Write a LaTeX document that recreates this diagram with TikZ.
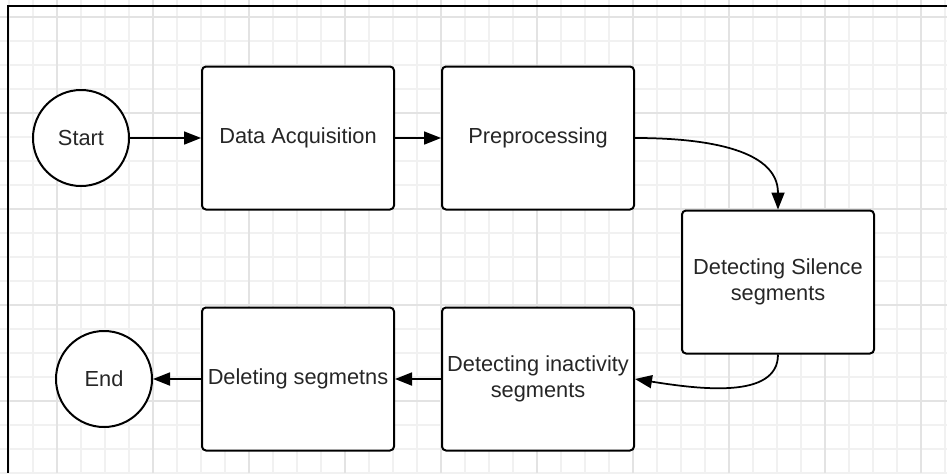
\documentclass[tikz,border=0pt]{standalone}
\usepackage{fontspec}
\setmainfont{Liberation Sans}
\usepackage{tikz}
\usetikzlibrary{positioning}
\usetikzlibrary{arrows.meta}
\definecolor{gridminor}{HTML}{F1F1F1}
\definecolor{gridmajor}{HTML}{E3E3E3}
\tikzset{
	block/.style={
		rectangle,
		align=center,
		minimum width=3.84cm,
		minimum height=2.86cm,
		inner sep=.05cm,
		line width=.04cm,
		rounded corners=.08cm,
		fill=white
	},
	terminal/.style={
		circle,
		minimum size=1.92cm,
		inner sep=0pt,
		line width=.04cm,
		fill=white
	},
	flow/.style={
		line width=.035cm,
		-{Triangle[length=.34cm, width=.26cm]}
	}
}

\begin{document}
\begin{tikzpicture}[font=\fontsize{12.4}{14.8}\selectfont, text=black!85]
			\useasboundingbox[fill=white] (0,0) rectangle (18.94,-9.46);
			% background grid
			\begin{scope}[shift={(0.66,-0.34)}]
				\draw[gridminor, line width=.03cm] (-0.66,-9.12) grid[step=0.48] (18.28,0.34);
			\end{scope}
			\begin{scope}[shift={(1.14,-0.34)}]
				\draw[gridmajor, line width=.03cm] (-1.14,-9.12) grid[step=1.92] (17.8,0.34);
			\end{scope}
			\draw[line width=.045cm] (18.94,-0.12) -- (0.16,-0.12) -- (0.16,-9.46);
			
			\draw node[draw, terminal] (Start) at (1.62,-2.76) {Start};
			\draw node[draw, block, right=1.42cm of Start](Acquisition){Data Acquisition};
			\draw node[draw, block, right=0.92cm of Acquisition](Preprocessing){Preprocessing};
			\draw node[draw, block, below right=-0.02cm and 0.92cm of Preprocessing](Silence){Detecting Silence\\ segments};
			\draw node[draw, block, below=1.92cm of Preprocessing](Inactivity){Detecting inactivity\\ segments};
			\draw node[draw, block, left=0.92cm of Inactivity](Deleting){Deleting segmetns};
			\draw node[draw, terminal, left=0.96cm of Deleting](End){End};
			
			\draw [flow] (Start) -- (Acquisition);
			\draw [flow] (Acquisition) -- (Preprocessing);
			\draw [flow] (Preprocessing.east) to[out=0, in=90] (Silence.north);
			\draw [flow] (Silence.south) to[out=-90, in=-9, out distance=0.9cm, in distance=1.3cm] (Inactivity.east);
			\draw [flow] (Inactivity) -- (Deleting);
			\draw [flow] (Deleting) -- (End);
		\end{tikzpicture}
\end{document}
